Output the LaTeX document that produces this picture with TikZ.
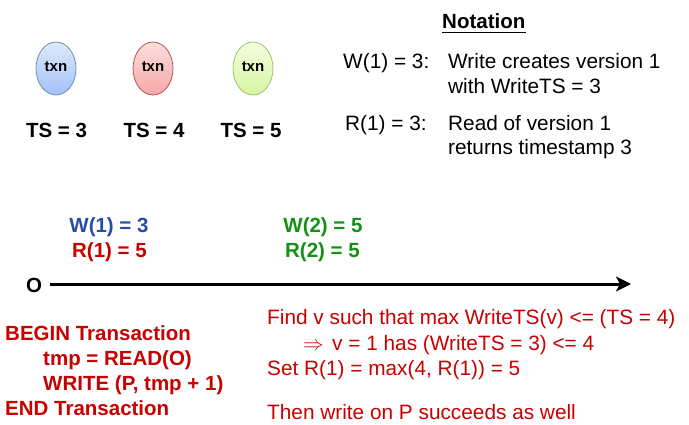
\documentclass[tikz,border=0pt]{standalone}
\usepackage{fontspec}
\setmainfont{Liberation Sans}
\usetikzlibrary{arrows.meta,shapes.geometric}
\definecolor{tred}{RGB}{200,0,0}
\definecolor{tblue}{RGB}{38,78,168}
\definecolor{tgreen}{RGB}{20,145,20}
\tikzset{
  txt/.style={inner sep=0pt, anchor=base west, font=\fontsize{20.8}{24}\selectfont},
  txtc/.style={inner sep=0pt, anchor=base, font=\fontsize{20.8}{24}\selectfont},
  btxt/.style={inner sep=0pt, anchor=base west, font=\fontsize{20.5}{24}\selectfont\bfseries},
  btxtc/.style={inner sep=0pt, anchor=base, font=\fontsize{20.5}{24}\selectfont\bfseries},
  txn/.style={ellipse, minimum width=40pt, minimum height=53pt, inner sep=0pt, line width=0.8pt},
  txnlab/.style={inner sep=0pt, anchor=base, font=\fontsize{15}{18}\selectfont\bfseries},
}
\begin{document}
\begin{tikzpicture}[x=1pt,y=-1pt]
\useasboundingbox (0,0) rectangle (689,424);
% transactions
\node[txn, draw={rgb,255:red,108;green,142;blue,191}, top color={rgb,255:red,222;green,234;blue,252}, bottom color={rgb,255:red,164;green,194;blue,248}] (t3) at (56,68.5) {};
\node[txn, draw={rgb,255:red,184;green,84;blue,80}, top color={rgb,255:red,253;green,222;blue,222}, bottom color={rgb,255:red,245;green,168;blue,168}] (t4) at (153,68.5) {};
\node[txn, draw={rgb,255:red,155;green,196;blue,106}, top color={rgb,255:red,244;green,255;blue,222}, bottom color={rgb,255:red,214;green,244;blue,162}] (t5) at (253,68.5) {};
\node[txnlab] (l3) at (56,71.5) {txn};
\node[txnlab] (l4) at (153,71.5) {txn};
\node[txnlab] (l5) at (253,71.5) {txn};
\node[btxtc] (ts3) at (56.5,137) {TS = 3};
\node[btxtc] (ts4) at (154,137) {TS = 4};
\node[btxtc] (ts5) at (251,137) {TS = 5};
% notation
\node[btxt] (nt) at (442,28) {Notation};
\draw[line width=1.6pt] ([yshift=-4.5pt]nt.base west) -- ([yshift=-4.5pt]nt.base east);
\node[txt] (nw) at (343,68) {W(1) = 3:};
\node[txt] (nw1) at (448,68) {Write creates version 1};
\node[txt] (nw2) at (448,93) {with WriteTS = 3};
\node[txt] (nr) at (345,130) {R(1) = 3:};
\node[txt] (nr1) at (448,130) {Read of version 1};
\node[txt] (nr2) at (448,154) {returns timestamp 3};
% timeline
\node[btxtc, text=tblue] (w1) at (109,232) {W(1) = 3};
\node[btxtc, text=tred] (r1) at (109.5,257) {R(1) = 5};
\node[btxtc, text=tgreen] (w2) at (323,232) {W(2) = 5};
\node[btxtc, text=tgreen] (r2) at (322.5,257) {R(2) = 5};
\node[btxt] (o) at (26,292) {O};
\coordinate (tstart) at (50,284);
\coordinate (tend) at (631,284);
\draw[line width=3pt, -{Stealth[length=15pt, width=15pt, inset=4pt]}] (tstart) -- (tend);
% transaction code
\node[btxt, text=tred] (b1) at (5,340) {BEGIN Transaction};
\node[btxt, text=tred] (b2) at (43,365) {tmp = READ(O)};
\node[btxt, text=tred] (b3) at (43,390) {WRITE (P, tmp + 1)};
\node[btxt, text=tred] (b4) at (5,415) {END Transaction};
% explanation
\node[txt, text=tred] (e1) at (267,324) {Find v such that max WriteTS(v) <= (TS = 4)};
\node[txt, text=tred] (e2a) at (303,350) {$\Rightarrow$};
\node[txt, text=tred] (e2) at (332,350) {v = 1 has (WriteTS = 3) <= 4};
\node[txt, text=tred] (e3) at (267,375) {Set R(1) = max(4, R(1)) = 5};
\node[txt, text=tred] (e4) at (267,419) {Then write on P succeeds as well};
\end{tikzpicture}
\end{document}
